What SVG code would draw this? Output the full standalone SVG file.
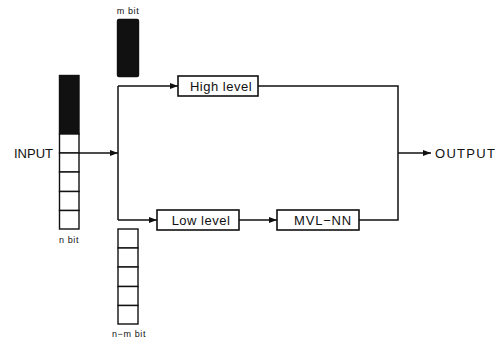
<svg xmlns="http://www.w3.org/2000/svg" width="503" height="342" viewBox="0 0 503 342">
<style>
  .box { fill: #fff; stroke: #111; stroke-width: 1.6; }
  .cell { fill: #fff; stroke: #111; stroke-width: 1.4; }
  .blk { fill: #111; stroke: #111; stroke-width: 1.4; }
  .lbl { font-family: "Liberation Sans", Arial, sans-serif; font-size: 13px; fill: #111; }
  .sm { font-family: "Liberation Sans", Arial, sans-serif; font-size: 9px; fill: #111; letter-spacing: 0.6px; }
  .wire { fill: none; stroke: #111; stroke-width: 1.5; }
</style>
<defs>
  <marker id="arr" viewBox="0 0 8 6" refX="8" refY="3" markerWidth="8" markerHeight="6" markerUnits="userSpaceOnUse" orient="auto">
    <path d="M0,0 L8,3 L0,6 Z" fill="#111"/>
  </marker>
</defs>
<rect width="503" height="342" fill="#fff"/>

<g id="input-register">
  <rect class="blk" x="59.5" y="75.5" width="19.5" height="58.5"/>
  <rect class="cell" x="59.5" y="134" width="19.5" height="19"/>
  <rect class="cell" x="59.5" y="153" width="19.5" height="19"/>
  <rect class="cell" x="59.5" y="172" width="19.5" height="19.5"/>
  <rect class="cell" x="59.5" y="191.5" width="19.5" height="19"/>
  <rect class="cell" x="59.5" y="210.5" width="19.5" height="18.5"/>
  <text class="lbl" x="53" y="158" text-anchor="end">INPUT</text>
  <text class="sm" x="69" y="243" text-anchor="middle">n bit</text>
</g>

<g id="m-bit-register">
  <rect class="blk" x="117.5" y="19.5" width="21" height="57" rx="1.5"/>
  <text class="sm" x="128" y="14" text-anchor="middle">m bit</text>
</g>

<g id="nm-bit-register">
  <rect class="cell" x="118" y="229" width="20" height="19"/>
  <rect class="cell" x="118" y="248" width="20" height="19"/>
  <rect class="cell" x="118" y="267" width="20" height="19.5"/>
  <rect class="cell" x="118" y="286.5" width="20" height="19"/>
  <rect class="cell" x="118" y="305.5" width="20" height="18.5"/>
  <text class="sm" x="129" y="337" text-anchor="middle">n−m bit</text>
</g>

<g id="high-level">
  <rect class="box" x="178" y="76" width="80" height="20"/>
  <text class="lbl" x="221" y="91" text-anchor="middle" letter-spacing="0.5">High level</text>
</g>

<g id="low-level">
  <rect class="box" x="157" y="210" width="82" height="20"/>
  <text class="lbl" x="201" y="225" text-anchor="middle" letter-spacing="0.5">Low level</text>
</g>

<g id="mvl-nn">
  <rect class="box" x="277" y="210" width="82" height="20"/>
  <text class="lbl" x="323" y="225" text-anchor="middle" letter-spacing="0.8">MVL−NN</text>
</g>

<g id="output">
  <text class="lbl" x="435" y="158" letter-spacing="1.3">OUTPUT</text>
</g>

<g id="connectors">
  <path class="wire" d="M79,153 L118,153" marker-end="url(#arr)"/>
  <path class="wire" d="M118,86 L118,220"/>
  <path class="wire" d="M118,86 L178,86" marker-end="url(#arr)"/>
  <path class="wire" d="M118,220 L157,220" marker-end="url(#arr)"/>
  <path class="wire" d="M239,220 L277,220" marker-end="url(#arr)"/>
  <path class="wire" d="M258,86 L398,86 L398,220 L359,220"/>
  <path class="wire" d="M398,153 L431,153" marker-end="url(#arr)"/>
</g>
</svg>
